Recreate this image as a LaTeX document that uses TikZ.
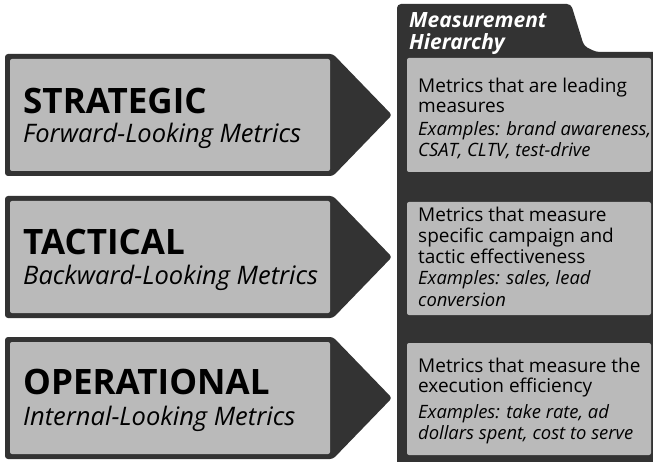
\documentclass[tikz,border=0pt]{standalone}
\usepackage{fontspec}
\setmainfont{Open Sans}
\usepackage{tikz}

\definecolor{panelgray}{gray}{0.2}
\definecolor{cardgray}{gray}{0.73}

\tikzset{
  arrowbox/.style={fill=panelgray,rounded corners=3pt},
  card/.style={fill=cardgray,rounded corners=2pt},
  levelname/.style={anchor=base west,inner sep=0pt,font=\fontsize{35}{35}\selectfont\bfseries},
  levelsub/.style={anchor=base west,inner sep=0pt,font=\fontsize{25.5}{25}\selectfont\itshape},
  desc/.style={anchor=base west,inner sep=0pt,font=\fontsize{19}{20}\selectfont},
  examples/.style={anchor=base west,inner sep=0pt,font=\fontsize{18.4}{21}\selectfont\itshape},
}

\begin{document}
\begin{tikzpicture}[x=1pt,y=-1pt]
\useasboundingbox (0,0) rectangle (653,462);
% panel on the right, with its tab
\fill[panelgray] (397,462) [rounded corners=4pt] -- (397,4) -- (571,4) -- (584,46) -- (596,52) [sharp corners] -- (653,52) -- (653,462) -- cycle;
\node[anchor=base west,inner sep=0pt,text=white,align=left,
      font=\fontsize{21}{18}\selectfont\bfseries\itshape] (header) at (409,28)
  {\begin{tabular}[t]{@{}l@{}}Measurement\\ Hierarchy\end{tabular}};
% the three pointers
\foreach \t in {54,196,337}{
  \fill[arrowbox] (5,\t) -- (333,\t) -- (392,\t+61) -- (333,\t+122) -- (5,\t+122) -- cycle;
  \fill[card] (10,\t+5) rectangle (330,\t+117);
}
\node[levelname] (strategic) at (23,114) {STRATEGIC};
\node[levelsub] (strategicsub) at (23,143) {Forward-Looking Metrics};
\node[levelname] (tactical) at (23,255) {TACTICAL};
\node[levelsub] (tacticalsub) at (23,284) {Backward-Looking Metrics};
\node[levelname] (operational) at (23,394) {OPERATIONAL};
\node[levelsub] (operationalsub) at (23,425) {Internal-Looking Metrics};
% cards in the panel
\fill[card] (407,58) rectangle (651,172);
\fill[card] (407,202) rectangle (651,315);
\fill[card] (407,343) rectangle (651,455);
\node[desc] (leading) at (418,93)
  {\begin{tabular}[t]{@{}l@{}}Metrics that are leading\\ measures\end{tabular}};
\node[examples] (leadingex) at (418,136)
  {\begin{tabular}[t]{@{}l@{}}Examples: brand awareness,\\ CSAT, CLTV, test-drive\end{tabular}};
\node[desc] (campaign) at (418,222)
  {\begin{tabular}[t]{@{}l@{}}Metrics that measure\\ specific campaign and\\ tactic effectiveness\end{tabular}};
\node[examples] (campaignex) at (418,285)
  {\begin{tabular}[t]{@{}l@{}}Examples: sales, lead\\ conversion\end{tabular}};
\node[desc] (execution) at (418,372)
  {\begin{tabular}[t]{@{}l@{}}Metrics that measure the\\ execution efficiency\end{tabular}};
\node[examples] (executionex) at (418,418)
  {\begin{tabular}[t]{@{}l@{}}Examples: take rate, ad\\ dollars spent, cost to serve\end{tabular}};
\end{tikzpicture}
\end{document}
